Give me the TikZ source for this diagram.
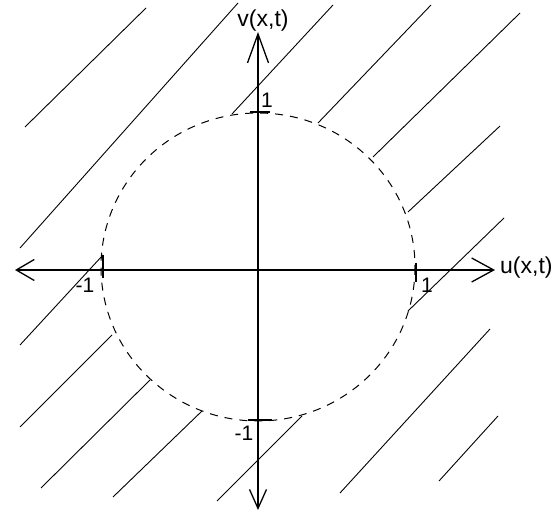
\documentclass[tikz,border=0pt]{standalone}
\usepackage{fontspec}
\setmainfont{Liberation Sans}
\usepackage{tikz}
\usetikzlibrary{arrows.meta,positioning,calc}
\newcommand{\HatchLine}[4]{%
  \draw[hatch] (#1,#2) -- (#3,#4);
}
\tikzset{
  axis/.style={line width=1.3pt},
  hatch/.style={line width=0.9pt},
  tick/.style={line width=1.3pt},
  lbl/.style={font=\fontsize{21}{25}\selectfont, inner sep=0pt},
  axlbl/.style={font=\fontsize{23}{27}\selectfont, inner sep=0pt}
}

\begin{document}
\begin{tikzpicture}[x=1pt,y=-1pt]
  \useasboundingbox (0,0) rectangle (557,518);
  \coordinate (o) at (258,270);
  \coordinate (xl) at (15,270);
  \coordinate (xr) at (495,270);
  \coordinate (yt) at (258,32);
  \coordinate (yb) at (258,510);
  % hatched region outside the disc
  \HatchLine{25}{127}{146}{8}
  \HatchLine{20}{248}{238}{3}
  \HatchLine{232}{114}{333}{5}
  \HatchLine{318}{123}{431}{5}
  \HatchLine{373}{157}{520}{13}
  \HatchLine{408}{212}{500}{126}
  \HatchLine{408}{311}{504}{218}
  \HatchLine{340}{493}{490}{329}
  \HatchLine{439}{481}{498}{416}
  \HatchLine{217}{501}{302}{416}
  \HatchLine{20}{345}{103}{255}
  \HatchLine{20}{427}{112}{335}
  \HatchLine{41}{488}{150}{380}
  \HatchLine{113}{497}{202}{411}
  % dashed unit circle
  \draw[line width=1pt, dash pattern=on 8pt off 7pt] (258,267) ellipse [x radius=157, y radius=154];
  % axes
  \draw[axis, {Straight Barb[length=18pt,width=21pt]}-{Straight Barb[length=22pt,width=24pt]}] (xl) -- (xr);
  \draw[axis, {Straight Barb[length=19pt,width=17pt]}-{Straight Barb[length=29pt,width=21pt]}] (yb) -- (yt);
  \draw[tick] (103,255) -- (103,278);
  \draw[tick] (416,263) -- (416,282);
  \draw[tick] (250,112) -- (270,112);
  \draw[tick] (248,420) -- (272,420);
  \path (263,21) node[axlbl] (vlab) {v(x,t)};
  \path (500,268) node[axlbl, anchor=west] (ulab) {u(x,t)};
  \path (267,100) node[lbl] (ytop) {1};
  \path (244,433) node[lbl] (ybot) {-1};
  \path (85,285) node[lbl] (xleft) {-1};
  \path (427,285) node[lbl] (xright) {1};
\end{tikzpicture}
\end{document}
